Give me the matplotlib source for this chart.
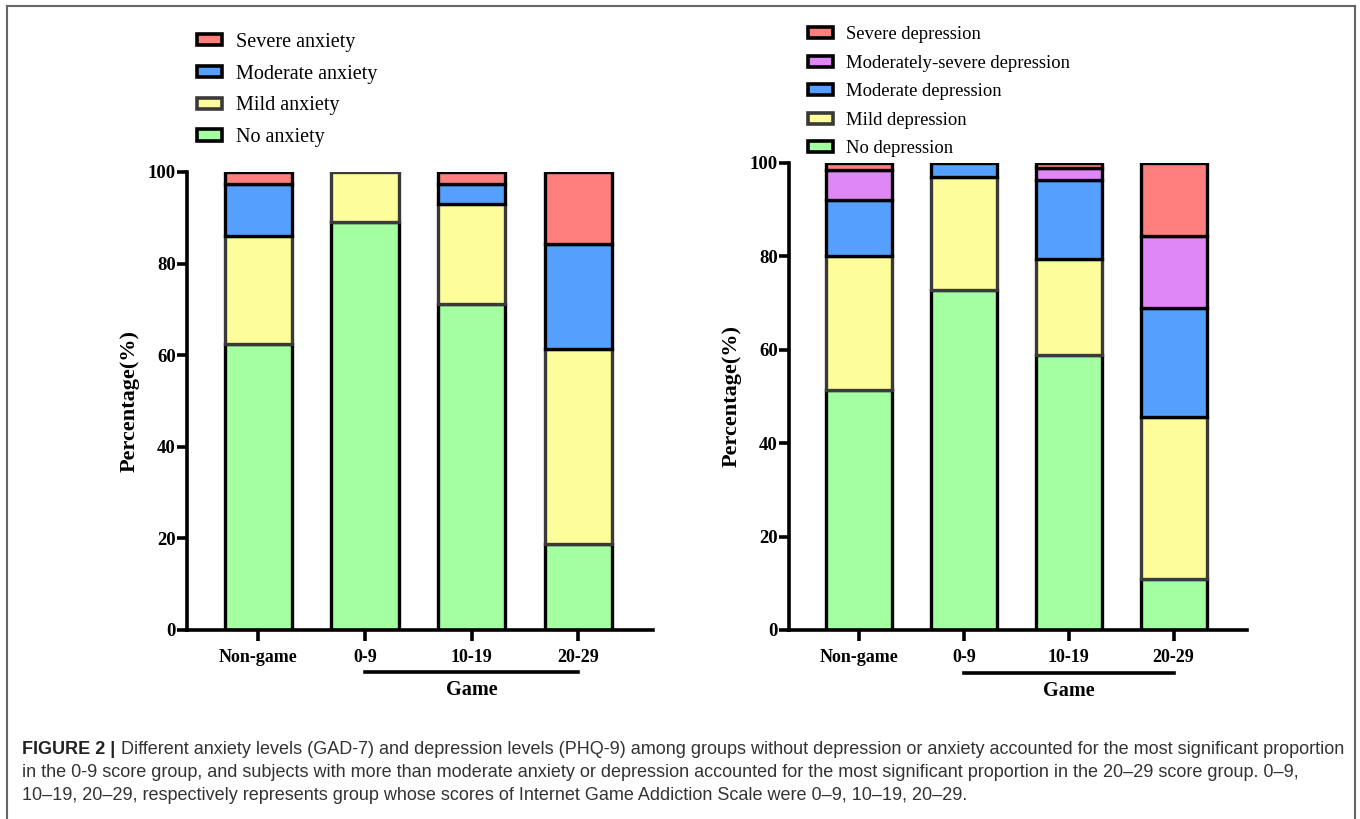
import numpy as np
import matplotlib
matplotlib.use("Agg")
import matplotlib.pyplot as plt
from matplotlib.patches import Patch
from matplotlib.lines import Line2D

# groups on the x axis
groups = ['Non-game', '0-9', '10-19', '20-29']

# anxiety (GAD-7), percentages stacked bottom -> top
anx_none = [62.4, 89.0, 71.2, 18.8]
anx_mild = [23.6, 11.0, 21.8, 42.5]
anx_moderate = [11.4, 0.0, 4.4, 23.0]
anx_severe = [2.6, 0.0, 2.6, 15.7]
anx_labels = ['No anxiety', 'Mild anxiety', 'Moderate anxiety', 'Severe anxiety']

# depression (PHQ-9)
dep_none = [51.4, 72.9, 58.8, 10.9]
dep_mild = [28.7, 24.2, 20.7, 34.8]
dep_moderate = [12.0, 2.9, 16.8, 23.2]
dep_modsevere = [6.3, 0.0, 2.6, 15.5]
dep_severe = [1.6, 0.0, 1.1, 15.6]
dep_labels = ['No depression', 'Mild depression', 'Moderate depression',
              'Moderately-severe depression', 'Severe depression']

c_green = '#a3ffa0'
c_yellow = '#fdfd9b'
c_blue = '#55a0ff'
c_purple = '#df88f5'
c_red = '#ff7f7f'

plt.rcParams['font.family'] = 'Liberation Serif'


def stacked(ax, series, colors, edges):
    x = np.arange(len(groups))
    bottom = np.zeros(len(groups))
    for vals, col, ec in zip(series, colors, edges):
        vals = np.array(vals)
        bars = ax.bar(x, vals, bottom=bottom, width=0.63, color=col,
                      edgecolor=ec, linewidth=2.4)
        for b, v in zip(bars, vals):
            if v == 0:
                b.set_visible(False)
        bottom += vals
    ax.set_ylim(0, 100)
    ax.set_xlim(-0.67, 3.70)
    ax.set_yticks([0, 20, 40, 60, 80, 100])
    ax.set_xticks(x)
    ax.set_xticklabels(groups, fontweight='bold', fontsize=13)
    for lab in ax.get_yticklabels():
        lab.set_fontweight('bold')
        lab.set_fontsize(13.5)
    ax.spines['top'].set_visible(False)
    ax.spines['right'].set_visible(False)
    ax.spines['left'].set_linewidth(2.6)
    ax.spines['bottom'].set_linewidth(2.6)
    ax.tick_params(axis='y', length=7, width=2.6, pad=1)
    ax.tick_params(axis='x', length=8, width=2.6, pad=6)
    ax.set_ylabel('Percentage(%)', fontweight='bold', fontsize=16, labelpad=6)
    # "Game" bracket under the three game groups
    ax.plot([1, 3], [-0.092, -0.092], color='black', lw=2.6,
            transform=ax.get_xaxis_transform(), clip_on=False)
    ax.text(2, -0.131, 'Game', transform=ax.get_xaxis_transform(),
            ha='center', va='center', fontweight='bold', fontsize=14.5)


fig = plt.figure(figsize=(13.6, 8.19), dpi=100)

ax1 = fig.add_axes([0.1375, 0.2308, 0.3426, 0.5592])
stacked(ax1, [anx_none, anx_mild, anx_moderate, anx_severe],
        [c_green, c_yellow, c_blue, c_red],
        ['black', '#3a3a3a', 'black', 'black'])

ax2 = fig.add_axes([0.5801, 0.2308, 0.3368, 0.5702])
stacked(ax2, [dep_none, dep_mild, dep_moderate, dep_modsevere, dep_severe],
        [c_green, c_yellow, c_blue, c_purple, c_red],
        ['black', '#3a3a3a', 'black', 'black', 'black'])

# legends (top to bottom: most severe first)
h1 = [Patch(facecolor=c, edgecolor=e, linewidth=2.6) for c, e in
      zip([c_red, c_blue, c_yellow, c_green], ['black', 'black', '#3a3a3a', 'black'])]
fig.legend(h1, anx_labels[::-1], loc='upper left', bbox_to_anchor=(0.139, 0.970),
           frameon=False, fontsize=14.5, handlelength=1.25, handleheight=0.5,
           labelspacing=0.64, handletextpad=0.7, borderaxespad=0)

h2 = [Patch(facecolor=c, edgecolor=e, linewidth=2.6) for c, e in
      zip([c_red, c_purple, c_blue, c_yellow, c_green],
          ['black', 'black', 'black', '#3a3a3a', 'black'])]
fig.legend(h2, dep_labels[::-1], loc='upper left', bbox_to_anchor=(0.589, 0.977),
           frameon=False, fontsize=13.4, handlelength=1.3, handleheight=0.55,
           labelspacing=0.62, handletextpad=0.7, borderaxespad=0)

# frame around the figure panel (open at the bottom)
for xs, ys in [([0.005, 0.005], [0.0, 0.993]), ([0.005, 0.9965], [0.993, 0.993]),
               ([0.9965, 0.9965], [0.0, 0.993])]:
    fig.add_artist(Line2D(xs, ys, color='#666666', lw=1.5, transform=fig.transFigure))

# caption
cap_font = 'Liberation Sans'
cap_size = 13.0
cap_lines = [
    'Different anxiety levels (GAD-7) and depression levels (PHQ-9) among groups without depression or anxiety accounted for the most significant proportion',
    'in the 0-9 score group, and subjects with more than moderate anxiety or depression accounted for the most significant proportion in the 20\u201329 score group. 0\u20139,',
    '10\u201319, 20\u201329, respectively represents group whose scores of Internet Game Addiction Scale were 0\u20139, 10\u201319, 20\u201329.',
]
cap_y = [754, 777, 800]
t0 = fig.text(0.0165, 1 - cap_y[0] / 819, 'FIGURE 2 | ', family=cap_font,
              fontweight='bold', fontsize=cap_size, color='#222222', va='baseline')
ax1.annotate(cap_lines[0], xy=(1, 0), xycoords=t0, va='bottom', ha='left',
             family=cap_font, fontsize=cap_size, color='#333333')
for line, yp in zip(cap_lines[1:], cap_y[1:]):
    fig.text(0.0165, 1 - yp / 819, line, family=cap_font, fontsize=cap_size,
             color='#333333', va='baseline')

fig.savefig('out.png', dpi=100)
